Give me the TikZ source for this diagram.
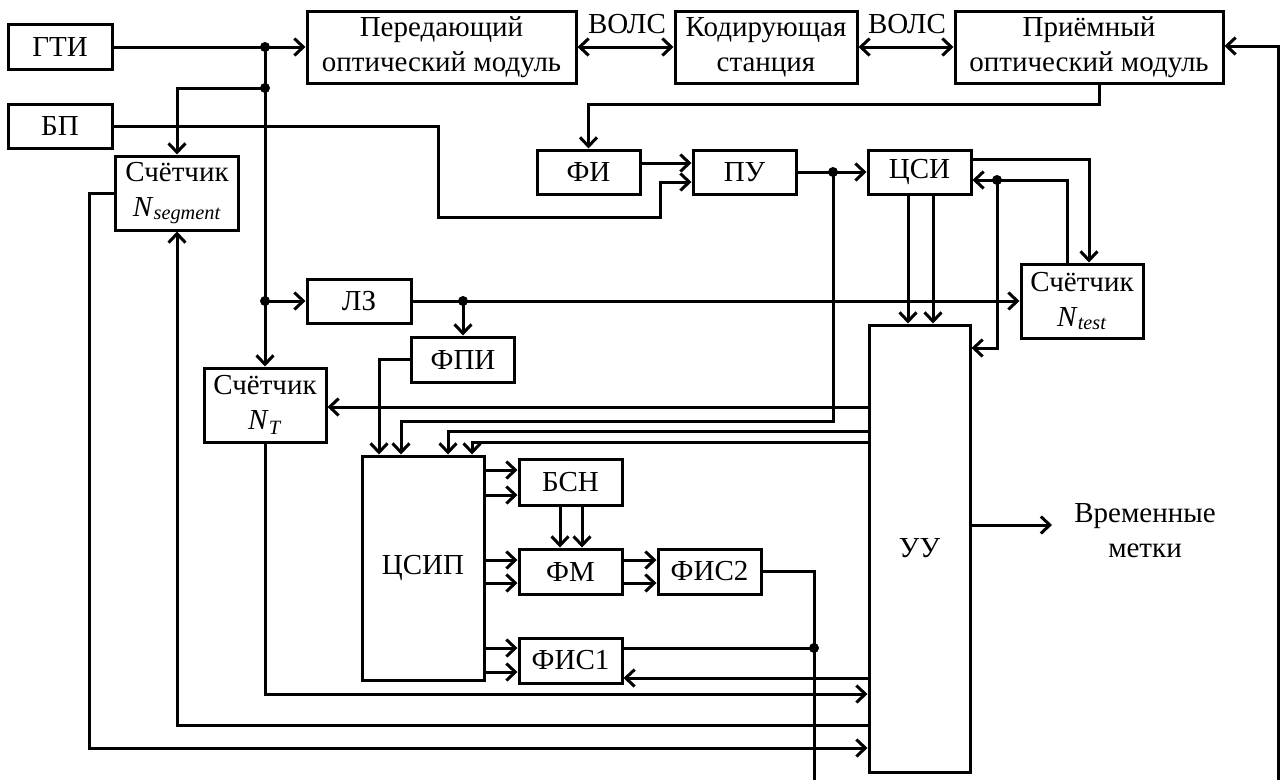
\documentclass[tikz,border=0pt]{standalone}
\usepackage{fontspec}
\setmainfont{Liberation Serif}
\usetikzlibrary{arrows.meta}
\begin{document}
\begin{tikzpicture}[x=1pt,y=-1pt,
  box/.style={draw,line width=3pt,inner sep=0pt,align=center,font=\fontsize{29}{35}\selectfont},
  wire/.style={line width=3pt},
  arr/.style={wire,-{Straight Barb[length=9pt,width=17pt]}},
  darr/.style={wire,{Straight Barb[length=9pt,width=17pt]}-{Straight Barb[length=9pt,width=17pt]}},
  dot/.style={circle,fill,inner sep=0pt,minimum size=10pt},
  lbl/.style={font=\fontsize{29}{35}\selectfont,align=center,inner sep=0pt}]
\useasboundingbox (0,0) rectangle (1282,780);
% boxes
\node[box,minimum width=104,minimum height=45] (gti) at (60,47) {ГТИ};
\node[box,minimum width=104,minimum height=44] (bp) at (60,126) {БП};
\node[box,minimum width=123,minimum height=74] (nseg) at (177,193) {Счётчик\\\textit{N}\textsubscript{\textit{segment}}};
\node[box,minimum width=269,minimum height=72] (tx) at (441.5,47) {Передающий\\оптический модуль};
\node[box,minimum width=182,minimum height=72] (cod) at (766,47) {Кодирующая\\станция};
\node[box,minimum width=268,minimum height=72] (rx) at (1089,47) {Приёмный\\оптический модуль};
\node[box,minimum width=103,minimum height=44] (fi) at (588.5,172) {ФИ};
\node[box,minimum width=103,minimum height=44] (pu) at (744.5,172) {ПУ};
\node[box,minimum width=103,minimum height=44] (csi) at (919.5,172) {ЦСИ};
\node[box,minimum width=104,minimum height=44] (lz) at (359,301) {ЛЗ};
\node[box,minimum width=122,minimum height=74] (ntest) at (1082,301) {Счётчик\\\textit{N}\textsubscript{\textit{test}}};
\node[box,minimum width=103,minimum height=45] (fpi) at (463,359.5) {ФПИ};
\node[box,minimum width=122,minimum height=74] (nt) at (265,405) {Счётчик\\\textit{N}\textsubscript{\textit{T}}};
\node[box,minimum width=101,minimum height=447] (uu) at (919.5,548.5) {УУ};
\node[box,minimum width=122,minimum height=224] (csip) at (423,568) {ЦСИП};
\node[box,minimum width=103,minimum height=46] (bsn) at (570.5,482) {БСН};
\node[box,minimum width=103,minimum height=45] (fm) at (570.5,571.5) {ФМ};
\node[box,minimum width=103,minimum height=45] (fis2) at (709.5,571.5) {ФИС2};
\node[box,minimum width=103,minimum height=45] (fis1) at (570.5,660.5) {ФИС1};
% labels
\node[lbl] (v1) at (627,24) {ВОЛС};
\node[lbl] (v2) at (907,24) {ВОЛС};
\node[lbl] (tm) at (1145,531) {Временные\\метки};
% junctions and free ends
\node[dot] (j1) at (265,47) {};
\node[dot] (j2) at (265,88) {};
\node[dot] (j3) at (265,301) {};
\node[dot] (j4) at (463,301) {};
\node[dot] (j5) at (833,172) {};
\node[dot] (j6) at (997,180) {};
\node[dot] (j7) at (814,648) {};
\coordinate (bot1) at (814,780);
\coordinate (bot2) at (1278,780);
\coordinate (out) at (1052,525);
% connectors
\draw[arr] (gti.east) -- (tx.west);
\draw[arr] (j1.center) -- (nt.north);
\draw[arr] (j2.center) -| (nseg.north);
\draw[arr] (j3.center) -- (lz.west);
\draw[arr] (lz.east) -- (ntest.west);
\draw[arr] (j4.center) -- (fpi.north);
\draw[darr] (tx.east) -- (cod.west);
\draw[darr] (cod.east) -- (rx.west);
\draw[arr] (rx.south -| 1099,0) -- (1099,104) -| (fi.north);
\draw[arr] (fi.east |- 0,163) -- (pu.west |- 0,163);
\draw[arr] (bp.east) -- (438,126) -- (438,217) -- (660,217) -- (660,182) -- (pu.west |- 0,182);
\draw[arr] (pu.east) -- (csi.west);
\draw[arr] (j5.center) -- (833,421) -| (csip.north -| 401,0);
\draw[arr] (csi.east |- 0,159) -| (ntest.north -| 1089,0);
\draw[arr] (ntest.north -| 1067,0) |- (csi.east |- 0,180);
\draw[arr] (j6.center) |- (uu.east |- 0,348);
\draw[arr] (csi.south -| 908,0) -- (uu.north -| 908,0);
\draw[arr] (csi.south -| 933,0) -- (uu.north -| 933,0);
\draw[arr] (uu.west |- 0,407) -- (nt.east |- 0,407);
\draw[arr] (uu.west |- 0,431) -| (csip.north -| 448,0);
\draw[arr] (uu.west |- 0,442) -| (csip.north -| 472,0);
\draw[arr] (fpi.west |- 0,359) -| (csip.north -| 379,0);
\draw[arr] (csip.east |- 0,470) -- (bsn.west |- 0,470);
\draw[arr] (csip.east |- 0,495) -- (bsn.west |- 0,495);
\draw[arr] (bsn.south -| 560,0) -- (fm.north -| 560,0);
\draw[arr] (bsn.south -| 582,0) -- (fm.north -| 582,0);
\draw[arr] (csip.east |- 0,560) -- (fm.west |- 0,560);
\draw[arr] (csip.east |- 0,583) -- (fm.west |- 0,583);
\draw[arr] (fm.east |- 0,560) -- (fis2.west |- 0,560);
\draw[arr] (fm.east |- 0,583) -- (fis2.west |- 0,583);
\draw[arr] (csip.east |- 0,648) -- (fis1.west |- 0,648);
\draw[arr] (csip.east |- 0,672) -- (fis1.west |- 0,672);
\draw[wire] (fis2.east |- 0,571) -| (bot1);
\draw[wire] (fis1.east |- 0,648) -- (j7.center);
\draw[arr] (uu.west |- 0,678) -- (fis1.east |- 0,678);
\draw[arr] (nt.south) |- (uu.west |- 0,694);
\draw[arr] (uu.west |- 0,725) -| (nseg.south);
\draw[arr] (nseg.west |- 0,193) -| (89,748) -- (uu.west |- 0,748);
\draw[arr] (uu.east |- 0,525) -- (out);
\draw[arr] (bot2) |- (rx.east |- 0,46);
\end{tikzpicture}
\end{document}
